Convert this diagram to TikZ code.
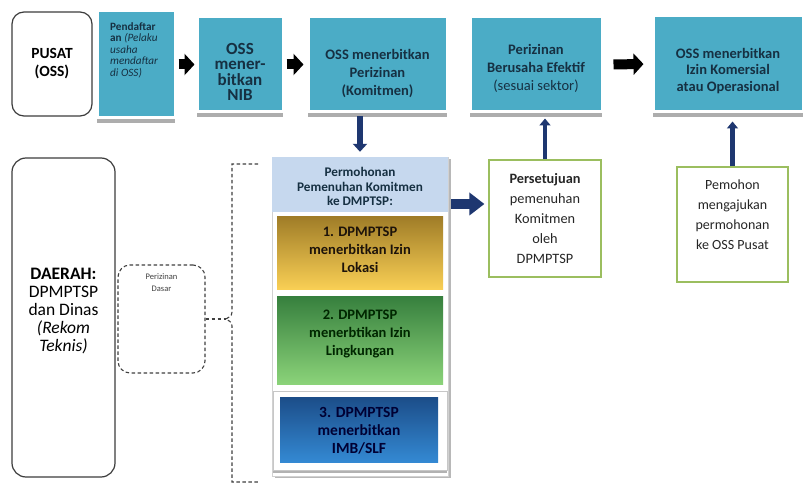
\documentclass[tikz,border=0pt]{standalone}
\usepackage{fontspec}
\setmainfont{Carlito}
\usetikzlibrary{arrows.meta,shadows}
\definecolor{aqua}{RGB}{75,172,198}
\definecolor{boxtext}{RGB}{22,48,66}
\definecolor{headblue}{RGB}{198,216,238}
\definecolor{navy}{RGB}{30,55,112}
\definecolor{olivegreen}{RGB}{155,190,95}
\definecolor{goldtop}{RGB}{160,125,40}
\definecolor{goldbot}{RGB}{250,208,85}
\definecolor{greentop}{RGB}{55,128,62}
\definecolor{greenbot}{RGB}{140,212,122}
\definecolor{bluetop}{RGB}{28,78,138}
\definecolor{bluebot}{RGB}{52,138,212}
\definecolor{framegray}{RGB}{60,60,60}
\begin{document}
\begin{tikzpicture}[x=1pt,y=-1pt,
  topbox/.style={fill=aqua, draw=white, line width=3pt, inner sep=0pt,
    drop shadow={shadow xshift=0pt, shadow yshift=-5pt, fill=black!32, opacity=1}},
  boxtxt/.style={text=boxtext, align=center, inner sep=0pt},
  bigtxt/.style={font=\fontsize{14.5}{18}\selectfont\bfseries},
  rbox/.style={draw=framegray, line width=1.2pt, rounded corners=12pt, fill=white, align=center, inner sep=0pt},
  dashline/.style={draw=black!75, line width=1.1pt, dash pattern=on 3.5pt off 2.5pt},
  blkarrow/.style={draw=black, line width=10pt, -{Triangle[length=10pt,width=21pt]}},
  navyarrow/.style={draw=navy, line width=6pt, -{Triangle[length=8pt,width=14pt]}},
  navyup/.style={draw=navy, line width=4.5pt, -{Triangle[length=7pt,width=11pt]}},
  navybig/.style={draw=navy, line width=10pt, -{Triangle[length=15pt,width=22pt]}},
  greenbox/.style={draw=olivegreen, line width=1.2pt, fill=white, inner sep=0pt},
  gradbox/.style={inner sep=0pt, draw=none},
  gtxt/.style={align=center, inner sep=0pt, font=\fontsize{14.5}{18}\selectfont\bfseries}
]
\useasboundingbox (0,0) rectangle (807,486);
\fill[white] (0,0) rectangle (807,486);

% ---------- top row ----------
\node[rbox, minimum width=80pt, minimum height=104pt,
      font=\fontsize{15.5}{18}\selectfont\bfseries] (pusat) at (52,64) {PUSAT\\(OSS)};

\node[topbox, minimum width=78pt, minimum height=107pt] (pend) at (136,64.5) {};
\node[boxtxt, anchor=north west, align=left, font=\fontsize{11.2}{11.5}\selectfont] (pendt) at (110,22)
  {\textbf{Pendaftar}\\\textbf{an} \textit{(Pelaku}\\\textit{usaha}\\\textit{mendaftar}\\\textit{di OSS)}};

\node[topbox, minimum width=86pt, minimum height=95pt] (nib) at (240,64.5) {};
\node[boxtxt, font=\fontsize{17}{15.5}\selectfont\bfseries] (nibt) at ([yshift=-7.5pt]nib.center)
  {OSS\\mener-\\bitkan\\NIB};

\node[topbox, minimum width=139pt, minimum height=95pt] (komit) at (377.5,64.5) {};
\node[boxtxt, bigtxt] (komitt) at ([yshift=-9pt]komit.center)
  {OSS menerbitkan\\Perizinan\\(Komitmen)};

\node[topbox, minimum width=132pt, minimum height=95pt] (efek) at (536,64.5) {};
\node[boxtxt, bigtxt] (efekt) at ([yshift=-4pt]efek.center)
  {Perizinan\\Berusaha Efektif\\\mdseries(sesuai sektor)};

\node[topbox, minimum width=150pt, minimum height=96pt] (kom) at (728,64) {};
\node[boxtxt, font=\fontsize{14.5}{16.5}\selectfont\bfseries] (komt) at ([yshift=-7pt]kom.center)
  {OSS menerbitkan\\Izin Komersial\\atau Operasional};

\draw[blkarrow, shorten <=2pt, shorten >=1pt] (pend.east) -- (nib.west);
\draw[blkarrow, shorten <=2pt, shorten >=3pt] (nib.east) -- (komit.west);
\draw[blkarrow, shorten <=10pt, shorten >=8pt] (efek.east) -- (kom.west);

% ---------- daerah ----------
\node[rbox, rounded corners=14pt, minimum width=103pt, minimum height=319pt] (daerah) at (63.5,317.5) {};
\node[align=center, inner sep=0pt, font=\fontsize{17.5}{17.8}\selectfont] (daeraht) at ([yshift=6.5pt]daerah.center)
  {\textbf{DAERAH:}\\DPMPTSP\\dan Dinas\\\textit{(Rekom}\\\textit{Teknis)}};

\node[dashline, rounded corners=12pt, minimum width=87pt, minimum height=108pt, inner sep=0pt] (pdasar) at (161.5,319) {};
\node[align=center, inner sep=0pt, text=black!75, font=\fontsize{8.5}{11.5}\selectfont] (pdasart) at (161.5,282.5)
  {Perizinan\\Dasar};

% bracket
\coordinate (brt) at (258,164);
\coordinate (brb) at (258,482);
\coordinate (tip) at (226,319);
\draw[dashline] (brt) -- (232,164) -- (232,312) .. controls (232,317) and (228,317) .. (tip)
  .. controls (228,321) and (232,321) .. (232,326) -- (232,482) -- (brb);
\draw[dashline] (pdasar.east) -- (tip);

% ---------- stack ----------
\node[fill=white, draw=black!18, line width=0.8pt, minimum width=176pt, minimum height=319pt, inner sep=0pt,
      drop shadow={shadow xshift=2.5pt, shadow yshift=-2.5pt, fill=black!28, opacity=1}] (stack) at (360,316.5) {};
\node[fill=headblue, minimum width=176pt, minimum height=55pt, inner sep=0pt] (head) at (360,184.5) {};
\node[align=center, inner sep=0pt, text=boxtext, font=\fontsize{13.2}{14.5}\selectfont\bfseries] (headt)
  at ([yshift=-2pt]head.center) {Permohonan\\Pemenuhan Komitmen\\ke DMPTSP:};

\node[gradbox, top color=goldtop, bottom color=goldbot, minimum width=166pt, minimum height=73pt] (g1) at (360,253.5) {};
\node[gtxt, text=black!85!brown] (g1t) at ([yshift=3.5pt]g1.center) {1. DPMPTSP\\menerbitkan Izin\\Lokasi};

\node[gradbox, top color=greentop, bottom color=greenbot, minimum width=166pt, minimum height=88pt] (g2) at (360,341) {};
\node[gtxt, text=black!85!green] (g2t) at ([yshift=7pt]g2.center) {2. DPMPTSP\\menerbtikan Izin\\Lingkungan};

\node[fill=white, draw=black!22, line width=0.8pt, minimum width=174pt, minimum height=79pt, inner sep=0pt,
      drop shadow={shadow xshift=0pt, shadow yshift=-3pt, fill=black!30, opacity=1}] (f3) at (360,430.5) {};
\node[gradbox, top color=bluetop, bottom color=bluebot, minimum width=158pt, minimum height=65pt] (g3) at (359,430.5) {};
\node[gtxt, text=black!80!blue, font=\fontsize{15.5}{18}\selectfont\bfseries] (g3t) at (g3.center) {3. DPMPTSP\\menerbitkan\\IMB/SLF};

% ---------- right side ----------
\node[greenbox, minimum width=112pt, minimum height=117pt] (pers) at (545,218.5) {};
\node[align=center, inner sep=0pt, text=black!85, font=\fontsize{14.3}{20}\selectfont] (perst) at (pers.center)
  {\textbf{Persetujuan}\\pemenuhan\\Komitmen\\oleh\\DPMPTSP};

\node[greenbox, minimum width=111pt, minimum height=115pt] (pem) at (732.5,224.5) {};
\node[align=center, inner sep=0pt, text=black!85, font=\fontsize{14}{20}\selectfont] (pemt) at ([yshift=9.5pt]pem.center)
  {Pemohon\\mengajukan\\permohonan\\ke OSS Pusat};

% ---------- navy arrows ----------
\draw[navyarrow, shorten <=3pt, shorten >=5pt] (komit.south -| head.north) -- (head.north);
\draw[navyup, shorten >=5pt] (pers.north) -- (pers.north |- efek.south);
\draw[navyup, shorten >=8pt] (pem.north) -- (pem.north |- kom.south);
\coordinate (ra) at (451,204);
\draw[navybig, shorten >=4pt] (ra) -- (ra -| pers.west);
\end{tikzpicture}
\end{document}
